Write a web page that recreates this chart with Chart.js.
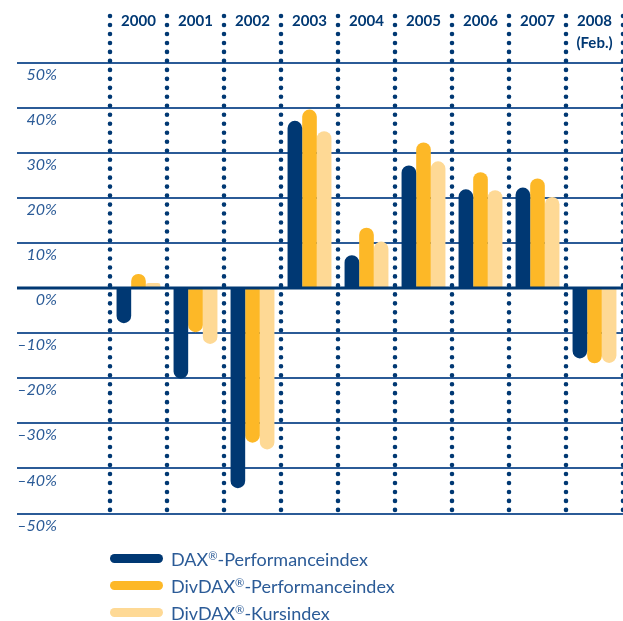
<!DOCTYPE html>
<html>
<head>
<meta charset="utf-8">
<script src="https://cdn.jsdelivr.net/npm/chart.js@4.4.0/dist/chart.umd.min.js"></script>
<style>
  body { margin: 0; background: #fff; }
  #wrap { position: relative; width: 623px; height: 621px; }
  #legend { position: absolute; left: 110px; top: 545px; font-family: Lato, sans-serif; font-size: 18px; color: #2b5b97; }
  .row { display: flex; align-items: center; height: 27px; }
  .swatch { width: 53px; height: 9px; border-radius: 4.5px; margin-right: 8px; }
  .row sup { font-size: 0.62em; vertical-align: 0.55em; line-height: 0; }
</style>
</head>
<body>
<div id="wrap">
  <canvas id="chart" width="623" height="621"></canvas>
  <div id="legend"></div>
</div>
<script>
const years = ['2000', '2001', '2002', '2003', '2004', '2005', '2006', '2007', '2008'];
const yearNotes = ['', '', '', '', '', '', '', '', '(Feb.)'];
const daxPerf = [-7.8, -20.1, -44.4, 37.1, 7.3, 27.2, 21.9, 22.3, -15.6];
const divdaxPerf = [3.1, -9.8, -34.3, 39.6, 13.4, 32.3, 25.7, 24.3, -16.7];
const divdaxKurs = [1.1, -12.4, -35.8, 34.8, 10.3, 28.1, 21.7, 20.2, -16.6];
const seriesLabels = ['DAX®-Performanceindex', 'DivDAX®-Performanceindex', 'DivDAX®-Kursindex'];
const yMin = -50, yMax = 50, yStep = 10;

const NAVY = '#003873';
const GRID = '#2b5b97';
const colors = ['#003873', '#fdb827', '#fed995'];

const gridPlugin = {
    id: 'indexGrid',
    beforeDatasetsDraw(chart) {
        const { ctx, scales: { x, y } } = chart;
        ctx.save();
        ctx.strokeStyle = GRID;
        ctx.lineWidth = 2;
        y.ticks.forEach((t) => {
            if (t.value === 0) return;
            const py = Math.round(y.getPixelForValue(t.value));
            ctx.beginPath();
            ctx.moveTo(17, py);
            ctx.lineTo(chart.width, py);
            ctx.stroke();
        });
        // dotted year separators
        const step = (x.right - x.left) / years.length;
        ctx.setLineDash([0, 8.98]);
        ctx.lineCap = 'round';
        ctx.lineWidth = 4.6;
        ctx.strokeStyle = NAVY;
        for (let i = 0; i <= years.length; i++) {
            const px = x.left + i * step;
            ctx.beginPath();
            ctx.moveTo(px, 16);
            ctx.lineTo(px, 510);
            ctx.stroke();
        }
        ctx.restore();
    },
    afterDatasetsDraw(chart) {
        const { ctx, scales: { y } } = chart;
        const py = y.getPixelForValue(0);
        ctx.save();
        ctx.strokeStyle = NAVY;
        ctx.lineWidth = 3;
        ctx.beginPath();
        ctx.moveTo(17, py);
        ctx.lineTo(chart.width, py);
        ctx.stroke();
        ctx.restore();
    },
};

new Chart(document.getElementById('chart'), {
    type: 'bar',
    data: {
        labels: years.map((yr, i) => [yr, yearNotes[i]]),
        datasets: [daxPerf, divdaxPerf, divdaxKurs].map((values, i) => ({
            label: seriesLabels[i],
            data: values,
            backgroundColor: colors[i],
            borderRadius: 7.3,
            borderSkipped: 'start',
            categoryPercentage: 0.77,
            barPercentage: 1.0,
        })),
    },
    options: {
        responsive: false,
        animation: false,
        devicePixelRatio: 1,
        layout: { padding: { top: 0, right: 0, bottom: 107.5, left: 0 } },
        plugins: { legend: { display: false }, tooltip: { enabled: false } },
        scales: {
            x: {
                position: 'top',
                grid: { display: false, drawTicks: false },
                border: { display: false },
                afterFit: (scale) => { scale.height = 60; },
                ticks: {
                    color: NAVY,
                    font: { family: 'Lato', weight: 'bold', size: 15, lineHeight: '22px' },
                    padding: 8,
                    maxRotation: 0,
                    autoSkip: false,
                },
            },
            y: {
                min: yMin,
                max: yMax,
                grid: { display: false, drawTicks: false },
                border: { display: false },
                afterFit: (scale) => { scale.width = 110; },
                ticks: {
                    stepSize: yStep,
                    color: GRID,
                    padding: 53,
                    labelOffset: 12,
                    font: { family: 'Lato', style: 'italic', size: 16 },
                    callback: (v) => (v < 0 ? '\u2013' : '') + Math.abs(v) + '%',
                },
            },
        },
    },
    plugins: [gridPlugin],
});

const legend = document.getElementById('legend');
seriesLabels.forEach((label, i) => {
    const row = document.createElement('div');
    row.className = 'row';
    row.innerHTML = `<span class="swatch" style="background:${colors[i]}"></span><span>${label.replace('®', '<sup>®</sup>')}</span>`;
    legend.appendChild(row);
});
</script>
</body>
</html>
